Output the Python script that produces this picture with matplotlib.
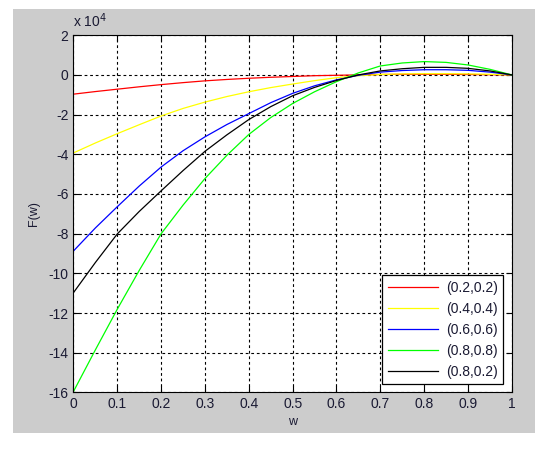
import matplotlib
matplotlib.use("Agg")
import matplotlib.pyplot as plt
from matplotlib.patches import Rectangle

# punkty w (co 0.05) i odczytane wartosci F(w) w jednostkach 10^4
w = [0.0, 0.05, 0.1, 0.15, 0.2, 0.25, 0.3, 0.35, 0.4, 0.45, 0.5,
     0.55, 0.6, 0.65, 0.7, 0.75, 0.8, 0.85, 0.9, 0.95, 1.0]

f_02_02 = [-0.97, -0.84, -0.72, -0.60, -0.49, -0.39, -0.30, -0.23, -0.17, -0.12, -0.08,
           -0.04, -0.02, 0.0, 0.02, 0.03, 0.03, 0.03, 0.02, 0.01, 0.0]
f_04_04 = [-3.93, -3.43, -2.96, -2.51, -2.07, -1.69, -1.37, -1.09, -0.85, -0.64, -0.46,
           -0.29, -0.14, -0.04, 0.02, 0.05, 0.06, 0.06, 0.05, 0.03, 0.0]
f_06_06 = [-8.87, -7.71, -6.64, -5.60, -4.64, -3.82, -3.12, -2.50, -1.95, -1.40, -0.93,
           -0.55, -0.25, -0.02, 0.14, 0.22, 0.26, 0.26, 0.23, 0.14, 0.0]
f_08_08 = [-15.95, -13.85, -11.8, -9.85, -8.0, -6.56, -5.22, -4.05, -3.0, -2.15, -1.44,
           -0.85, -0.34, 0.10, 0.45, 0.60, 0.67, 0.63, 0.50, 0.28, 0.0]
f_08_02 = [-10.97, -9.45, -8.01, -6.88, -5.84, -4.82, -3.85, -3.02, -2.25, -1.60, -1.05,
           -0.63, -0.28, 0.0, 0.20, 0.31, 0.38, 0.38, 0.33, 0.20, 0.0]

series = [f_02_02, f_04_04, f_06_06, f_08_08, f_08_02]
labels = ['(0.2,0.2)', '(0.4,0.4)', '(0.6,0.6)', '(0.8,0.8)', '(0.8,0.2)']
colors = ['#ff0000', '#ffff00', '#0000ff', '#00ff00', '#000000']

x_ticks = [0, 0.1, 0.2, 0.3, 0.4, 0.5, 0.6, 0.7, 0.8, 0.9, 1]
x_tick_labels = ['0', '0.1', '0.2', '0.3', '0.4', '0.5', '0.6', '0.7', '0.8', '0.9', '1']
y_ticks = [-16, -14, -12, -10, -8, -6, -4, -2, 0, 2]

plt.rcParams['font.family'] = ['Liberation Sans', 'DejaVu Sans']
plt.rcParams['font.size'] = 9
plt.rcParams['axes.unicode_minus'] = False

fig = plt.figure(figsize=(5.5, 4.5), dpi=100, facecolor='white')
# szare tlo jak w MATLABie
fig.patches.append(Rectangle((0.024, 0.038), 0.949, 0.942, transform=fig.transFigure,
                             facecolor='#cccccc', edgecolor='none', zorder=-10))

ax = fig.add_axes([0.1336, 0.1278, 0.797, 0.794])
ax.set_zorder(1)
ax.set_facecolor('white')

for vals, lab, col in zip(series, labels, colors):
    ax.plot(w, vals, color=col, linewidth=0.9, label=lab)

ax.set_xlim(0, 1)
ax.set_ylim(-16, 2)
ax.set_xticks(x_ticks)
ax.set_xticklabels(x_tick_labels)
ax.set_yticks(y_ticks)
ax.grid(True, color='black', linestyle=(0, (2.5, 2.5)), linewidth=0.8)
ax.tick_params(direction='in', top=True, right=True, length=4, color='black',
               labelcolor='#1a1a33', labelsize=10)
for s in ax.spines.values():
    s.set_linewidth(0.8)

ax.set_xlabel('w', fontsize=9, color='#1a1a33', labelpad=3)
ax.set_ylabel('F(w)', fontsize=9, color='#1a1a33', labelpad=6)
ax.text(0.0, 1.015, 'x 10$^{4}$', transform=ax.transAxes, fontsize=10,
        color='#1a1a33', ha='left', va='bottom')

leg = ax.legend(loc='lower right', fancybox=False, framealpha=1, edgecolor='black',
                fontsize=10, handlelength=3.6, borderaxespad=0.6,
                labelspacing=0.5, handletextpad=0.6)
leg.get_frame().set_linewidth(0.9)
for t in leg.get_texts():
    t.set_color('#1a1a33')

plt.savefig('out.png', dpi=100, facecolor='white')
plt.close()
